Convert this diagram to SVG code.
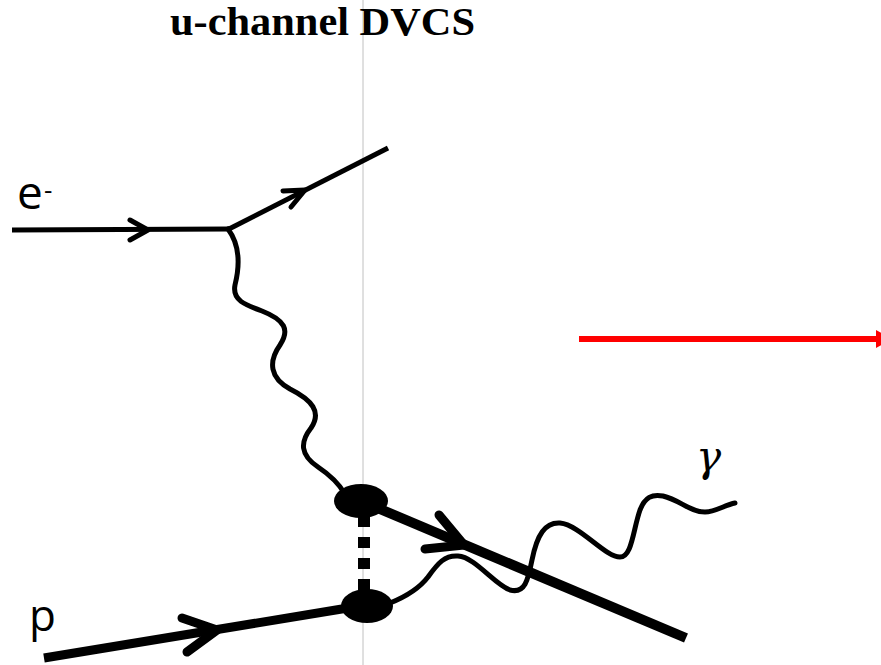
<svg xmlns="http://www.w3.org/2000/svg" width="881" height="665" viewBox="0 0 881 665">
<style>
.lbl{font-family:"Open Sans","Liberation Sans",sans-serif;fill:#000}
.line{stroke:#000;fill:none;stroke-linecap:butt}
.chev{stroke:#000;fill:none;stroke-linecap:round;stroke-linejoin:round}
.photon{stroke:#000;fill:none;stroke-width:5;stroke-linecap:round}
</style>
<rect width="881" height="665" fill="#fff"/>
<line x1="363" y1="0" x2="363" y2="665" stroke="#c0c0c0" stroke-width="1"/>
<g id="title">
<text x="170" y="35" font-family="'Liberation Serif','Times New Roman',serif" font-weight="bold" font-size="39" textLength="305" lengthAdjust="spacingAndGlyphs">u-channel DVCS</text>
</g>
<g id="connectors">
<!-- incoming electron -->
<line class="line" x1="12" y1="230" x2="229" y2="229" stroke-width="5"/>
<polyline class="chev" points="130,220 148,230 130,240" stroke-width="5"/>
<!-- outgoing electron -->
<line class="line" x1="227" y1="230" x2="388" y2="148" stroke-width="5"/>
<polyline class="chev" points="283,191 305,190 291,207" stroke-width="5"/>
<!-- virtual photon -->
<path class="photon" d="M228,229 C240,245 240,265 235,285 C232,300 245,305 262,311 C285,320 290,330 280,345 C268,362 270,378 290,389 C312,400 322,412 311,428 C300,442 300,455 318,467 C330,475 338,482 345,494"/>
<!-- incoming proton -->
<line class="line" x1="44" y1="658" x2="360" y2="606" stroke-width="9"/>
<polyline class="chev" points="182,618 217,630 187,652" stroke-width="9"/>
<!-- outgoing proton -->
<line class="line" x1="361" y1="501" x2="686" y2="638" stroke-width="10"/>
<polyline class="chev" points="439,515 464,545 425,549" stroke-width="9"/>
<!-- exchange (dashed) -->
<line x1="364" y1="516" x2="364" y2="592" stroke="#000" stroke-width="12" stroke-dasharray="11 10"/>
<!-- outgoing real photon -->
<path class="photon" d="M390,603 C405,597 418,590 428,577 C438,563 445,555 458,556 C475,557 495,585 510,590 C525,594 528,580 532,560 C537,535 545,522 560,523 C580,525 605,557 620,557 C632,557 633,530 640,510 C645,497 652,494 663,496 C680,500 690,512 705,512 C715,512 725,505 735,503" stroke-width="4.5"/>
<!-- red arrow -->
<line x1="579" y1="339" x2="878" y2="339" stroke="#ff0000" stroke-width="6"/>
<polygon points="876,330 892,339 876,348" fill="#ff0000"/>
</g>
<g id="vertex-top">
<ellipse cx="361" cy="501" rx="27" ry="17" fill="#000"/>
</g>
<g id="vertex-bottom">
<ellipse cx="367" cy="606" rx="26" ry="17" fill="#000"/>
</g>
<g id="label-e">
<text class="lbl" x="17" y="209" font-size="46">e</text>
<text class="lbl" x="44" y="199" font-size="26">-</text>
</g>
<g id="label-p">
<text class="lbl" x="29" y="631" font-size="44">p</text>
</g>
<g id="label-gamma">
<text x="696" y="471" font-family="'DejaVu Serif','Liberation Serif',serif" font-style="italic" font-size="42" fill="#000">γ</text>
</g>
</svg>
